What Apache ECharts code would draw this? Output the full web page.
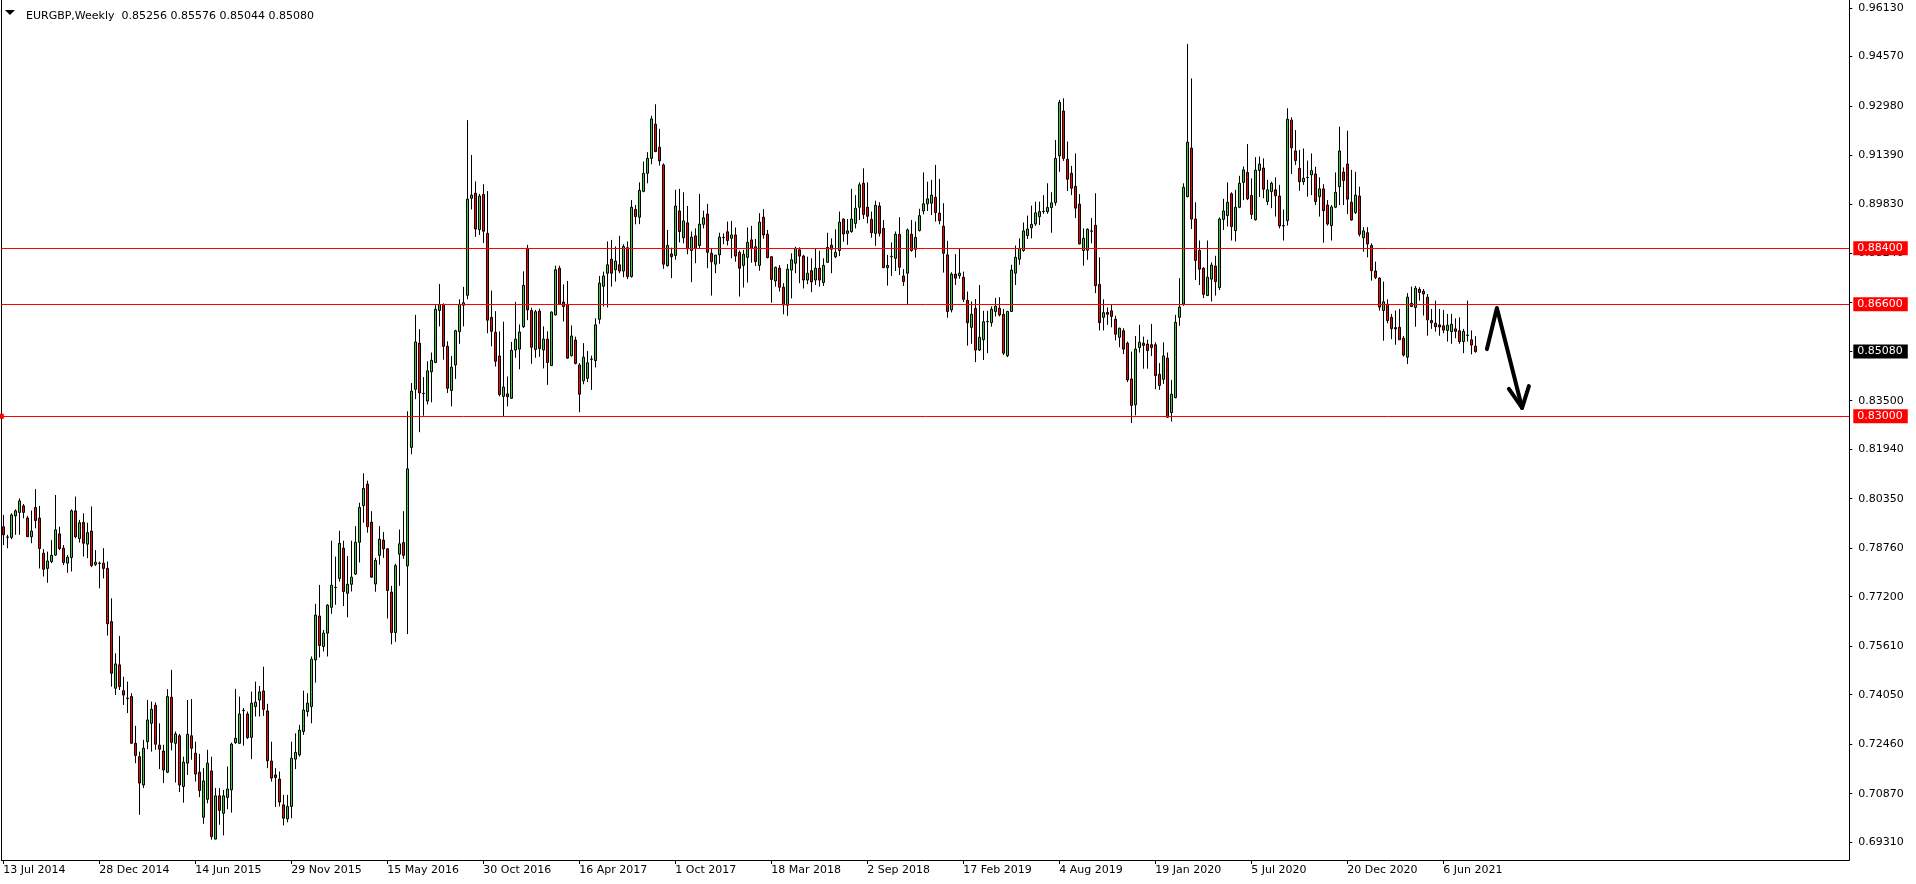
<!DOCTYPE html>
<html>
<head>
<meta charset="utf-8">
<script src="https://cdn.jsdelivr.net/npm/echarts@6/dist/echarts.min.js"></script>
<style>
html,body{margin:0;padding:0;background:#ffffff;}
#chart{width:1916px;height:884px;}
</style>
</head>
<body>
<div id="chart"></div>
<script>
// ---------------- DATA ----------------
const symbolName = 'EURGBP';
const timeframeName = 'Weekly';
const firstWeekUTC = [2014, 6, 13]; // 13 Jul 2014, one bar per week
const lastBarText = ['0.85256', '0.85576', '0.85044', '0.85080'];

const openPrices = [
.7945,.7911,.7911,.7980,.7991,.8012,.7973,.7913,.8007,.7973,
.7860,.7811,.7833,.7854,.7922,.7876,.7828,.7846,.7996,.7907,
.7959,.7889,.7931,.7824,.7828,.7828,.7811,.7640,.7426,.7501,
.7418,.7394,.7399,.7249,.7206,.7115,.7254,.7313,.7371,.7243,
.7224,.7156,.7397,.7249,.7273,.7110,.7185,.7273,.7217,.7156,
.7011,.7069,.7160,.6941,.7080,.7024,.7075,.7099,.7251,.7249,
.7354,.7343,.7268,.7367,.7388,.7417,.7353,.7192,.7147,.7134,
.7051,.7006,.7046,.7198,.7212,.7287,.7351,.7367,.7517,.7658,
.7560,.7603,.7686,.7750,.7779,.7876,.7731,.7760,.7793,.7895,
.8013,.8082,.7960,.7761,.7853,.7902,.7874,.7735,.7605,.7857,
.7894,.7819,.8200,.8387,.8535,.8374,.8349,.8443,.8473,.8640,
.8657,.8525,.8383,.8465,.8572,.8657,.8689,.9001,.9017,.8900,
.9013,.8888,.8618,.8570,.8494,.8364,.8372,.8358,.8513,.8516,
.8588,.8840,.8640,.8515,.8638,.8513,.8548,.8463,.8626,.8776,
.8667,.8660,.8495,.8545,.8465,.8414,.8422,.8483,.8479,.8612,
.8718,.8760,.8805,.8771,.8787,.8767,.8842,.8749,.8965,.8940,
.9023,.9081,.9129,.9239,.9165,.9108,.8784,.8822,.8817,.8960,
.8874,.8922,.8833,.8880,.8849,.8917,.8950,.8824,.8789,.8819,
.8874,.8893,.8872,.8883,.8827,.8785,.8811,.8867,.8845,.8785,
.8940,.8885,.8813,.8735,.8776,.8715,.8657,.8770,.8792,.8835,
.8815,.8738,.8768,.8738,.8776,.8730,.8795,.8850,.8813,.8833,
.8934,.8888,.8894,.8920,.8972,.9049,.8972,.8933,.8888,.8976,
.8904,.8778,.8813,.8808,.8885,.8751,.8760,.8885,.8837,.8897,
.8960,.8983,.8985,.9004,.8953,.8911,.8819,.8642,.8757,.8752,
.8747,.8673,.8586,.8647,.8513,.8546,.8604,.8601,.8637,.8647,
.8628,.8495,.8637,.8760,.8805,.8833,.8881,.8906,.8918,.8942,
.8958,.8958,.8971,.8987,.9137,.9281,.9126,.9081,.9039,.8982,
.8833,.8834,.8896,.8914,.8724,.8618,.8634,.8639,.8612,.8554,
.8575,.8535,.8420,.8337,.8521,.8535,.8532,.8530,.8530,.8435,
.8419,.8487,.8312,.8360,.8618,.8661,.9006,.9162,.8934,.8833,
.8776,.8688,.8741,.8783,.8714,.8933,.8945,.9015,.8897,.8972,
.9052,.9084,.9010,.8932,.9090,.9098,.8990,.9022,.9028,.9008,
.8913,.8929,.9252,.9153,.9097,.9054,.9067,.9076,.9079,.9006,
.9031,.8979,.8913,.8972,.9038,.9085,.9111,.8988,.8955,.9008,
.8874,.8890,.8849,.8767,.8744,.8640,.8660,.8618,.8585,.8586,
.8551,.8490,.8663,.8650,.8708,.8702,.8683,.8608,.8599,.8594,
.8591,.8576,.8572,.8581,.8575,.8540,.8560,.8546,.85256
];

const highPrices = [
.7983,.7919,.7988,.8001,.8036,.8018,.7980,.7997,.8066,.8012,
.7873,.7865,.7902,.8047,.7945,.7886,.7854,.8001,.8042,.7967,
.7988,.7958,.8010,.7870,.7833,.7876,.7833,.7715,.7538,.7594,
.7463,.7447,.7410,.7305,.7222,.7260,.7388,.7383,.7380,.7313,
.7244,.7423,.7485,.7287,.7279,.7206,.7388,.7391,.7254,.7215,
.7169,.7228,.7206,.7105,.7105,.7099,.7174,.7251,.7424,.7399,
.7362,.7351,.7415,.7447,.7433,.7495,.7376,.7254,.7169,.7158,
.7083,.7083,.7254,.7281,.7308,.7418,.7410,.7528,.7697,.7758,
.7613,.7696,.7900,.7849,.7932,.7900,.7851,.7900,.7947,.8022,
.8117,.8093,.7995,.7845,.7947,.7928,.7875,.7755,.7826,.7936,
.7995,.8316,.8407,.8626,.8580,.8426,.8477,.8505,.8657,.8725,
.8663,.8541,.8494,.8578,.8676,.8716,.9252,.9140,.9055,.9015,
.9046,.9024,.8704,.8638,.8573,.8604,.8428,.8539,.8668,.8595,
.8766,.8851,.8649,.8642,.8646,.8589,.8573,.8637,.8784,.8784,
.8724,.8735,.8592,.8556,.8471,.8535,.8510,.8495,.8615,.8751,
.8765,.8862,.8867,.8846,.8880,.8853,.8862,.8995,.8979,.9052,
.9119,.9149,.9266,.9303,.9224,.9113,.8899,.8842,.9028,.9031,
.9020,.8976,.8894,.8904,.9015,.8961,.8983,.8840,.8819,.8890,
.8888,.8926,.8928,.8907,.8833,.8835,.8907,.8912,.8870,.8953,
.8966,.8899,.8813,.8781,.8786,.8728,.8789,.8824,.8845,.8843,
.8819,.8813,.8808,.8838,.8832,.8808,.8890,.8872,.8901,.8958,
.8936,.8934,.9031,.9011,.9052,.9097,.9052,.8958,.8993,.8988,
.8931,.8819,.8859,.8894,.8940,.8773,.8904,.8931,.8926,.8967,
.9084,.9054,.9060,.9108,.9063,.8985,.8864,.8763,.8821,.8840,
.8765,.8701,.8669,.8677,.8722,.8639,.8639,.8653,.8680,.8683,
.8645,.8639,.8787,.8849,.8872,.8923,.8945,.8977,.8990,.8990,
.9011,.9049,.9020,.9188,.9317,.9322,.9183,.9105,.9145,.9014,
.8904,.8904,.8937,.9017,.8811,.8676,.8650,.8658,.8623,.8585,
.8583,.8540,.8508,.8558,.8594,.8556,.8546,.8597,.8538,.8471,
.8538,.8505,.8417,.8626,.8744,.9049,.9497,.9386,.8988,.8865,
.8779,.8865,.8795,.8816,.8939,.8999,.9052,.9020,.9028,.9073,
.9103,.9175,.9065,.9133,.9135,.9129,.9060,.9054,.9068,.9044,
.8965,.9290,.9261,.9220,.9156,.9161,.9122,.9145,.9102,.9068,
.9046,.8995,.8979,.9084,.9231,.9100,.9218,.9092,.9086,.9038,
.8908,.8908,.8856,.8797,.8747,.8733,.8676,.8629,.8640,.8645,
.8558,.8696,.8717,.8719,.8715,.8709,.8693,.8645,.8672,.8645,
.8642,.8629,.8629,.8615,.8618,.8581,.8672,.8576,.85576
];

const lowPrices = [
.7886,.7876,.7905,.7919,.7919,.7972,.7912,.7892,.7940,.7811,
.7785,.7765,.7828,.7851,.7870,.7822,.7797,.7801,.7908,.7894,
.7849,.7844,.7815,.7819,.7747,.7779,.7595,.7431,.7404,.7420,
.7372,.7346,.7248,.7185,.7019,.7105,.7230,.7222,.7228,.7166,
.7121,.7153,.7226,.7123,.7092,.7058,.7147,.7196,.7126,.7076,
.6990,.7056,.6939,.6940,.6987,.6953,.7037,.7026,.7247,.7247,
.7241,.7263,.7198,.7335,.7335,.7337,.7169,.7126,.7044,.7046,
.6985,.6995,.7008,.7166,.7206,.7276,.7335,.7313,.7444,.7525,
.7544,.7528,.7665,.7694,.7769,.7690,.7654,.7737,.7790,.7830,
.7958,.7926,.7781,.7736,.7823,.7845,.7650,.7567,.7575,.7755,
.7842,.7600,.8178,.8355,.8249,.8302,.8338,.8345,.8471,.8589,
.8482,.8375,.8332,.8420,.8533,.8589,.8676,.8965,.8877,.8883,
.8857,.8567,.8525,.8460,.8364,.8300,.8332,.8356,.8488,.8451,
.8584,.8609,.8469,.8488,.8491,.8454,.8401,.8462,.8624,.8658,
.8605,.8485,.8492,.8467,.8313,.8403,.8410,.8385,.8457,.8597,
.8653,.8650,.8717,.8733,.8760,.8747,.8741,.8746,.8917,.8918,
.9020,.9049,.9110,.9149,.9106,.8774,.8781,.8744,.8803,.8859,
.8856,.8821,.8731,.8792,.8840,.8904,.8776,.8688,.8760,.8790,
.8853,.8849,.8808,.8797,.8685,.8714,.8730,.8794,.8783,.8768,
.8871,.8808,.8665,.8717,.8701,.8628,.8623,.8679,.8760,.8728,
.8711,.8725,.8699,.8722,.8717,.8719,.8794,.8760,.8808,.8815,
.8861,.8851,.8890,.8904,.8931,.8934,.8920,.8874,.8848,.8878,
.8776,.8720,.8751,.8767,.8754,.8719,.8658,.8829,.8810,.8894,
.8949,.8960,.8947,.8926,.8917,.8762,.8617,.8634,.8722,.8742,
.8667,.8527,.8533,.8474,.8510,.8481,.8503,.8588,.8621,.8621,
.8497,.8490,.8635,.8722,.8787,.8829,.8870,.8872,.8912,.8915,
.8951,.8951,.8890,.8977,.9086,.9121,.9024,.9011,.8937,.8853,
.8784,.8803,.8856,.8696,.8576,.8576,.8594,.8586,.8544,.8522,
.8500,.8410,.8278,.8303,.8505,.8453,.8453,.8494,.8387,.8385,
.8404,.8296,.8283,.8358,.8591,.8655,.9004,.8902,.8738,.8722,
.8680,.8687,.8669,.8688,.8706,.8899,.8910,.8865,.8862,.8969,
.8995,.8995,.8934,.8929,.9005,.9001,.8979,.8969,.8942,.8904,
.8865,.8913,.9079,.9108,.9025,.9044,.9006,.9011,.8979,.8942,
.8858,.8913,.8865,.8969,.8979,.8979,.8950,.8929,.8950,.8878,
.8829,.8811,.8736,.8741,.8640,.8543,.8599,.8548,.8530,.8545,
.8492,.8468,.8651,.8588,.8672,.8624,.8559,.8581,.8572,.8559,
.8567,.8540,.8533,.8551,.8533,.8503,.8540,.8499,.85044
];

const closePrices = [
.7919,.7912,.7983,.7996,.8028,.7991,.7913,.7931,.7965,.7875,
.7808,.7835,.7853,.7935,.7875,.7830,.7847,.7996,.7913,.7958,
.7892,.7926,.7820,.7831,.7827,.7811,.7633,.7474,.7504,.7431,
.7404,.7393,.7249,.7210,.7121,.7233,.7324,.7358,.7246,.7230,
.7163,.7399,.7252,.7279,.7115,.7188,.7278,.7233,.7150,.7097,
.7128,.7185,.6949,.7080,.7033,.7080,.7102,.7246,.7265,.7343,
.7355,.7267,.7378,.7381,.7414,.7358,.7193,.7137,.7139,.7060,
.7008,.7046,.7201,.7220,.7291,.7356,.7378,.7519,.7661,.7563,
.7603,.7693,.7757,.7749,.7892,.7737,.7760,.7783,.7895,.8007,
.8068,.7945,.7783,.7837,.7905,.7874,.7740,.7605,.7820,.7890,
.7853,.8131,.8381,.8539,.8375,.8373,.8446,.8480,.8644,.8659,
.8525,.8390,.8458,.8575,.8660,.8665,.8998,.9011,.8902,.9008,
.8895,.8609,.8573,.8477,.8370,.8394,.8363,.8512,.8548,.8571,
.8721,.8642,.8522,.8636,.8518,.8548,.8473,.8635,.8771,.8660,
.8653,.8487,.8558,.8470,.8371,.8490,.8472,.8484,.8594,.8728,
.8751,.8787,.8760,.8799,.8767,.8846,.8749,.8972,.8942,.9026,
.9081,.9129,.9256,.9151,.9121,.8789,.8849,.8813,.8976,.8894,
.8928,.8838,.8876,.8840,.8918,.8938,.8827,.8797,.8818,.8876,
.8875,.8865,.8883,.8815,.8776,.8821,.8859,.8840,.8797,.8924,
.8883,.8810,.8740,.8779,.8715,.8658,.8773,.8803,.8840,.8815,
.8738,.8760,.8732,.8776,.8738,.8785,.8843,.8837,.8827,.8924,
.8886,.8896,.8934,.8969,.9044,.8949,.8943,.8890,.8978,.8888,
.8778,.8785,.8814,.8885,.8779,.8733,.8899,.8833,.8875,.8945,
.8983,.8999,.9011,.8955,.8929,.8824,.8637,.8757,.8744,.8760,
.8676,.8601,.8628,.8513,.8554,.8604,.8605,.8644,.8654,.8626,
.8503,.8637,.8770,.8811,.8840,.8896,.8902,.8917,.8954,.8958,
.8959,.8971,.8986,.9129,.9309,.9129,.9062,.9033,.8969,.8854,
.8872,.8901,.8895,.8720,.8601,.8633,.8628,.8621,.8564,.8583,
.8516,.8417,.8335,.8516,.8538,.8528,.8511,.8521,.8431,.8399,
.8494,.8297,.8371,.8602,.8651,.9036,.9181,.8934,.8801,.8773,
.8692,.8747,.8786,.8733,.8934,.8960,.8988,.8910,.8972,.9049,
.9092,.8999,.8949,.9091,.9111,.9030,.9028,.9049,.9009,.8912,
.8912,.9255,.9163,.9122,.9054,.9065,.9068,.9090,.8990,.9031,
.8961,.8918,.8973,.9020,.9153,.9058,.8998,.8931,.9011,.8885,
.8896,.8854,.8768,.8746,.8651,.8668,.8608,.8582,.8581,.8546,
.8497,.8683,.8653,.8712,.8698,.8693,.8610,.8601,.8588,.8587,
.8577,.8593,.8596,.8573,.8540,.8573,.8561,.8529,.85080
];

const yTickLabels = ['0.96130','0.94570','0.92980','0.91390','0.89830','0.88240','0.86650','0.85080',
  '0.83500','0.81940','0.80350','0.78760','0.77200','0.75610','0.74050','0.72460','0.70870','0.69310'];
const hiddenTickLabels = ['0.86650','0.85080'];   // covered by price boxes in the original
const levelPrices = [0.88400, 0.86600, 0.83000];
const selectedLevel = 0.83000;
const currentPrice = 0.85080;
const dateLabelEvery = 24;   // weeks between time labels
// hand-drawn arrow, in (bar index, price)
const arrowShaft = [[370.9, 0.8516], [373.4, 0.8648], [379.7, 0.8327]];
const arrowHead = [[376.4, 0.8388], [379.7, 0.8327], [381.4, 0.8397]];

// ---------------- BUILD ----------------
const MONTHS = ['Jan','Feb','Mar','Apr','May','Jun','Jul','Aug','Sep','Oct','Nov','Dec'];
const TOTAL_SLOTS = 462;   // visible bar slots incl. empty right margin
const nBars = closePrices.length;
const startMs = Date.UTC(firstWeekUTC[0], firstWeekUTC[1], firstWeekUTC[2]);
const categories = [];
for (let i = 0; i < TOTAL_SLOTS; i++) {
  const d = new Date(startMs + i * 7 * 86400000);
  categories.push(d.getUTCDate() + ' ' + MONTHS[d.getUTCMonth()] + ' ' + d.getUTCFullYear());
}
const candleData = openPrices.map((o, i) => [o, closePrices[i], lowPrices[i], highPrices[i]]);
const yTickValues = yTickLabels.map(Number);
const yLabelValues = yTickLabels.filter(s => hiddenTickLabels.indexOf(s) < 0).map(Number);
const showDate = (idx) => idx % dateLabelEvery === 0 && idx < nBars;

const Y_MIN = 0.687375, Y_MAX = 0.963814;
const FONT = 'DejaVu Sans';

const markData = levelPrices.map(v => {
  const item = { yAxis: v };
  if (v === selectedLevel) { item.symbol = ['emptyRect', 'emptyRect']; item.symbolSize = 5; }
  return item;
});
markData.push({
  yAxis: currentPrice,
  lineStyle: { color: 'rgba(0,0,0,0)', width: 0 },
  label: { backgroundColor: '#000000', color: '#ffffff' }
});

const chart = echarts.init(document.getElementById('chart'), null, { renderer: 'canvas' });
chart.setOption({
  animation: false,
  backgroundColor: '#ffffff',
  textStyle: { fontFamily: FONT },
  title: {
    text: symbolName + ',' + timeframeName + '  ' + lastBarText.join(' '),
    left: 21, top: 6,
    textStyle: { fontSize: 11, fontWeight: 'normal', color: '#000', fontFamily: FONT }
  },
  graphic: [{
    type: 'polygon', silent: true,
    shape: { points: [[5, 10], [15, 10], [10, 15]] },
    style: { fill: '#000' }
  }],
  grid: { left: 1.3, top: 0, width: 1848, height: 860, containLabel: false },
  xAxis: [{
    type: 'category', data: categories, boundaryGap: true,
    axisLine: { show: true, onZero: false, lineStyle: { color: '#000', width: 1 } },
    axisTick: { show: true, interval: showDate, alignWithLabel: true, length: 4, lineStyle: { color: '#000' } },
    axisLabel: { interval: showDate, align: 'left', margin: 5, color: '#000', fontSize: 11, fontFamily: FONT },
    splitLine: { show: false }
  }, {
    type: 'value', min: -0.5, max: TOTAL_SLOTS - 0.5, show: false,
    axisLine: { onZero: false }, splitLine: { show: false }
  }],
  yAxis: [{
    type: 'value', position: 'right', min: Y_MIN, max: Y_MAX,
    axisLine: { show: true, onZero: false, lineStyle: { color: '#000', width: 1 } },
    axisTick: { show: true, customValues: yTickValues, length: 3, lineStyle: { color: '#000' } },
    axisLabel: { customValues: yLabelValues, formatter: v => v.toFixed(5), margin: 9, color: '#000', fontSize: 11, fontFamily: FONT },
    splitLine: { show: false }
  }, {
    type: 'value', position: 'left', min: Y_MIN, max: Y_MAX,
    axisLine: { show: true, onZero: false, lineStyle: { color: '#000', width: 1 } },
    axisTick: { show: false }, axisLabel: { show: false }, splitLine: { show: false }
  }],
  series: [{
    type: 'candlestick',
    xAxisIndex: 0, yAxisIndex: 0,
    data: candleData,
    barWidth: 3,
    silent: true,
    itemStyle: {
      color: '#32CD32', color0: '#FF0000',
      borderColor: '#000000', borderColor0: '#000000', borderWidth: 1
    },
    markLine: {
      silent: true, symbol: 'none', animation: false, precision: 5,
      lineStyle: { color: '#FF0000', width: 1, type: 'solid' },
      label: {
        show: true, position: 'end', distance: 4,
        formatter: p => Number(p.value).toFixed(5),
        color: '#ffffff', backgroundColor: '#FF0000',
        fontSize: 11, fontFamily: FONT, padding: [2, 5, 1, 4]
      },
      data: markData
    }
  }, {
    type: 'line', xAxisIndex: 1, yAxisIndex: 0, data: arrowShaft,
    symbol: 'none', silent: true, z: 5,
    lineStyle: { color: '#000', width: 4, cap: 'round', join: 'round' }
  }, {
    type: 'line', xAxisIndex: 1, yAxisIndex: 0, data: arrowHead,
    symbol: 'none', silent: true, z: 5,
    lineStyle: { color: '#000', width: 4, cap: 'round', join: 'round' }
  }]
});
</script>
</body>
</html>
